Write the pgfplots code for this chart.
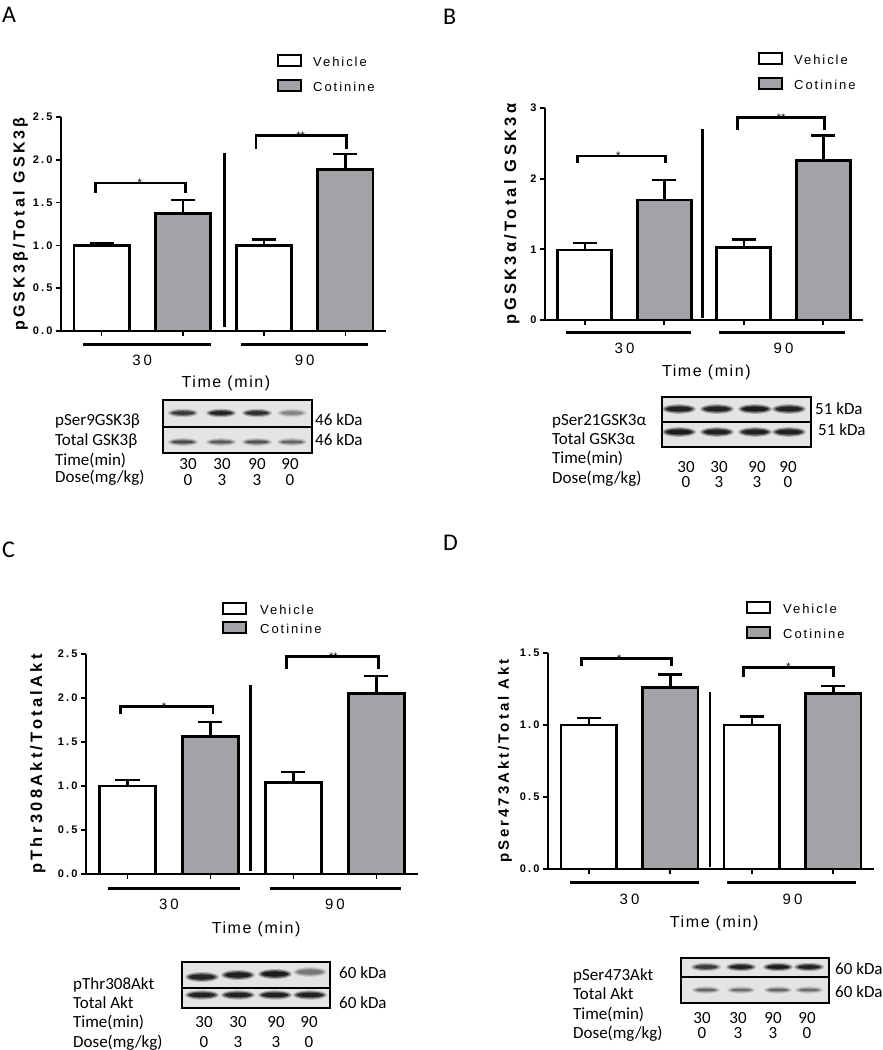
\documentclass[border=0pt]{standalone}
\usepackage{pgfplots}
\pgfplotsset{compat=1.18}
\usepackage{fontspec}
\setmainfont{Liberation Sans}
\newfontfamily\lsA[LetterSpace=10]{Liberation Sans}
\newfontfamily\lsL[LetterSpace=15]{Liberation Sans}
\newfontfamily\lsB[LetterSpace=20]{Liberation Sans}
\newfontfamily\blotfont{Carlito}
\definecolor{bargray}{RGB}{163,163,167}
\definecolor{blotbg}{RGB}{228,228,228}

\pgfplotsset{
  gp/.style={
    scale only axis, clip=false,
    axis lines=left, axis line style={-, line width=1.7pt},
    xmin=-0.5, xmax=3.5, ymin=0,
    xtick={0,1,2,3}, xticklabels={},
    tick style={line width=1.7pt, black},
    tick align=outside, major tick length=5pt,
    /pgf/number format/assume math mode=true,
    yticklabel style={font=\lsB\bfseries\fontsize{11}{13}\selectfont},
    ylabel style={anchor=center},
  },
  veh/.style={ybar, bar width=0.68, bar shift=0pt, fill=white, draw=black, line width=2.6pt,
    error bars/y dir=plus, error bars/y explicit,
    error bars/error bar style={line width=2.5pt, black},
    error bars/error mark options={rotate=90, line width=2.5pt, mark size=12pt, black}},
  cot/.style={veh, fill=bargray},
  brk/.style={forget plot, no marks, black, line width=2.8pt, line join=miter},
  sep/.style={forget plot, no marks, black, line width=2.6pt},
  uline/.style={forget plot, no marks, black, line width=3pt},
}
\newcommand{\legA}{\lsL\fontsize{13}{15}\selectfont}
\newcommand{\grp}{\lsB\fontsize{15}{17}\selectfont}
\newcommand{\tim}{\lsA\fontsize{16}{18}\selectfont}
\newcommand{\stars}{\fontsize{11}{12}\selectfont}
\newcommand{\blt}{\blotfont\fontsize{17}{20}\selectfont}
% blurred band: x, y, half width, half height, darkness
\newcommand{\band}[5]{%
  \fill[black, opacity=0.25*#5] (#1,#2) ellipse ({#3+3} and {#4+2});
  \fill[black, opacity=0.45*#5] (#1,#2) ellipse ({#3+1} and {#4+0.8});
  \fill[black, opacity=0.7*#5] (#1,#2) ellipse ({#3-1} and {#4-0.4});
}

\begin{document}
\begin{tikzpicture}
\path[use as bounding box] (0,0) rectangle (883pt,-1050pt);

% ---------------- Panel A ----------------
\begin{axis}[gp, at={(61pt,-331pt)}, anchor=south west, width=325pt, height=214pt,
  ymax=2.5, ytick={0,0.5,1,1.5,2,2.5},
  yticklabel style={/pgf/number format/.cd, fixed, fixed zerofill, precision=1},
  ylabel={pGSK3β/Total GSK3β},
  ylabel style={at={(axis description cs:-0.125,0.5)}, font=\lsB\bfseries\fontsize{16}{18}\selectfont}]
\addplot[veh] coordinates {(0,1.00) +- (0,0.03) (2,1.00) +- (0,0.07)};
\addplot[cot] coordinates {(1,1.37) +- (0,0.16) (3,1.89) +- (0,0.18)};
\addplot[brk] coordinates {(-0.08,1.61) (-0.08,1.73) (1.03,1.73) (1.03,1.61)};
\addplot[brk] coordinates {(1.90,2.13) (1.90,2.28) (3.01,2.28) (3.01,2.13)};
\addplot[sep] coordinates {(1.51,0.05) (1.51,2.08)};
\addplot[uline] coordinates {(-0.23,-0.152) (1.34,-0.152)};
\addplot[uline] coordinates {(1.71,-0.152) (3.28,-0.152)};
\node[font=\stars, anchor=base, yshift=-3.5pt] at (axis cs:0.47,1.73) {*};
\node[font=\stars, anchor=base, yshift=-3.5pt] at (axis cs:2.45,2.28) {**};
\node[font=\grp] at (axis cs:0.5,0) [yshift=-29pt] {30};
\node[font=\grp] at (axis cs:2.5,0) [yshift=-29pt] {90};
\node[font=\tim] at (axis cs:1.53,0) [yshift=-52pt] {Time (min)};
\end{axis}

% ---------------- Panel B ----------------
\begin{axis}[gp, at={(545pt,-320pt)}, anchor=south west, width=318pt, height=212pt,
  ymax=3, ytick={0,1,2,3},
  ylabel={pGSK3α/Total GSK3α},
  ylabel style={at={(axis description cs:-0.104,0.5)}, font=\lsB\bfseries\fontsize{16.5}{18}\selectfont}]
\addplot[veh] coordinates {(0,0.99) +- (0,0.10) (2,1.03) +- (0,0.11)};
\addplot[cot] coordinates {(1,1.70) +- (0,0.28) (3,2.26) +- (0,0.35)};
\addplot[brk] coordinates {(-0.09,2.22) (-0.09,2.32) (1.02,2.32) (1.02,2.22)};
\addplot[brk] coordinates {(1.92,2.69) (1.92,2.86) (3.02,2.86) (3.02,2.69)};
\addplot[sep] coordinates {(1.48,0.03) (1.48,2.70)};
\addplot[uline] coordinates {(-0.23,-0.17) (1.34,-0.17)};
\addplot[uline] coordinates {(1.69,-0.17) (3.27,-0.17)};
\node[font=\stars, anchor=base, yshift=-3.5pt] at (axis cs:0.42,2.32) {*};
\node[font=\stars, anchor=base, yshift=-3.5pt] at (axis cs:2.47,2.86) {**};
\node[font=\grp] at (axis cs:0.5,0) [yshift=-28pt] {30};
\node[font=\grp] at (axis cs:2.5,0) [yshift=-28pt] {90};
\node[font=\tim] at (axis cs:1.53,0) [yshift=-52pt] {Time (min)};
\end{axis}

% ---------------- Panel C ----------------
\begin{axis}[gp, at={(86pt,-874pt)}, anchor=south west, width=332pt, height=220pt,
  ymax=2.5, ytick={0,0.5,1,1.5,2,2.5},
  yticklabel style={/pgf/number format/.cd, fixed, fixed zerofill, precision=1},
  ylabel={pThr308Akt/TotalAkt},
  ylabel style={at={(axis description cs:-0.145,0.5)}, font=\lsB\bfseries\fontsize{16.5}{18}\selectfont}]
\addplot[veh] coordinates {(0,1.00) +- (0,0.07) (2,1.04) +- (0,0.12)};
\addplot[cot] coordinates {(1,1.56) +- (0,0.17) (3,2.05) +- (0,0.20)};
\addplot[brk] coordinates {(-0.08,1.82) (-0.08,1.90) (1.03,1.90) (1.03,1.82)};
\addplot[brk] coordinates {(1.92,2.33) (1.92,2.47) (3.02,2.47) (3.02,2.33)};
\addplot[sep] coordinates {(1.48,0.03) (1.48,2.15)};
\addplot[uline] coordinates {(-0.24,-0.159) (1.35,-0.159)};
\addplot[uline] coordinates {(1.72,-0.159) (3.29,-0.159)};
\node[font=\stars, anchor=base, yshift=-3.5pt] at (axis cs:0.44,1.90) {*};
\node[font=\stars, anchor=base, yshift=-3.5pt] at (axis cs:2.48,2.47) {**};
\node[font=\grp] at (axis cs:0.5,0) [yshift=-30pt] {30};
\node[font=\grp] at (axis cs:2.5,0) [yshift=-30pt] {90};
\node[font=\tim] at (axis cs:1.55,0) [yshift=-55pt] {Time (min)};
\end{axis}

% ---------------- Panel D ----------------
\begin{axis}[gp, at={(548pt,-869pt)}, anchor=south west, width=326pt, height=216pt,
  ymax=1.5, ytick={0,0.5,1,1.5},
  yticklabel style={/pgf/number format/.cd, fixed, fixed zerofill, precision=1},
  ylabel={pSer473Akt/Total Akt},
  ylabel style={at={(axis description cs:-0.132,0.5)}, font=\lsB\bfseries\fontsize{15}{17}\selectfont}]
\addplot[veh] coordinates {(0,1.00) +- (0,0.05) (2,1.00) +- (0,0.06)};
\addplot[cot] coordinates {(1,1.26) +- (0,0.09) (3,1.22) +- (0,0.05)};
\addplot[brk] coordinates {(-0.09,1.41) (-0.09,1.46) (1.02,1.46) (1.02,1.41)};
\addplot[brk] coordinates {(1.90,1.33) (1.90,1.40) (3.00,1.40) (3.00,1.33)};
\addplot[sep] coordinates {(1.49,0.014) (1.49,1.23)};
\addplot[uline] coordinates {(-0.23,-0.097) (1.35,-0.097)};
\addplot[uline] coordinates {(1.70,-0.097) (3.28,-0.097)};
\node[font=\stars, anchor=base, yshift=-3.5pt] at (axis cs:0.375,1.46) {*};
\node[font=\stars, anchor=base, yshift=-3.5pt] at (axis cs:2.45,1.40) {*};
\node[font=\grp] at (axis cs:0.5,0) [yshift=-30pt] {30};
\node[font=\grp] at (axis cs:2.5,0) [yshift=-30pt] {90};
\node[font=\tim] at (axis cs:1.54,0) [yshift=-54pt] {Time (min)};
\end{axis}

\begin{scope}[x=1pt,y=-1pt]
% panel letters
\node[font=\blotfont\fontsize{24}{26}\selectfont, anchor=base west, inner sep=0pt] at (2,22) {A};
\node[font=\blotfont\fontsize{24}{26}\selectfont, anchor=base west, inner sep=0pt] at (443,24) {B};
\node[font=\blotfont\fontsize{24}{26}\selectfont, anchor=base west, inner sep=0pt] at (2,557) {C};
\node[font=\blotfont\fontsize{24}{26}\selectfont, anchor=base west, inner sep=0pt] at (443,550) {D};

% legends
\foreach \x/\y/\tx/\dy in {277/54/313/25, 758/52/794/25, 222/602/260/19, 746/601/783/25}{
  \draw[line width=2.5pt, fill=white] (\x+1.2,\y+1.2) rectangle (\x+25-1.2,\y+13-1.2);
  \draw[line width=2.5pt, fill=bargray] (\x+1.2,\y+\dy+1.2) rectangle (\x+25-1.2,\y+\dy+13-1.2);
  \node[font=\legA, anchor=west, inner sep=0pt] at (\tx,\y+7.5) {Vehicle};
  \node[font=\legA, anchor=west, inner sep=0pt] at (\tx,\y+\dy+7.5) {Cotinine};
}

% ---- blot A ----
\fill[blotbg] (163,400) rectangle (312,453);
\foreach \cx/\op in {183/0.75, 221/0.95, 257/0.85, 292/0.35}{\band{\cx}{413}{12}{2.2}{\op}}
\foreach \cx/\op in {183/0.65, 221/0.55, 257/0.6, 292/0.5}{\band{\cx}{442}{12}{1.8}{\op}}
\draw[line width=2pt] (163,400) rectangle (312,453);
\draw[line width=2pt] (163,427) -- (312,427);
\node[font=\blt, anchor=base west, inner sep=0pt] at (55,425) {pSer9GSK3β};
\node[font=\blt, anchor=base west, inner sep=0pt] at (55,445) {Total GSK3β};
\node[font=\blt, anchor=base west, inner sep=0pt] at (55,465) {Time(min)};
\node[font=\blt, anchor=base west, inner sep=0pt] at (55,482) {Dose(mg/kg)};
\node[font=\blt, anchor=base west, inner sep=0pt] at (315,425) {46 kDa};
\node[font=\blt, anchor=base west, inner sep=0pt] at (315,445) {46 kDa};
\foreach \cx/\t/\d in {188/30/0, 222/30/3, 257/90/3, 290/90/0}{
  \node[font=\blt, anchor=base, inner sep=0pt] at (\cx,469) {\t};
  \node[font=\blt, anchor=base, inner sep=0pt] at (\cx,485) {\d};
}

% ---- blot B ----
\fill[blotbg] (662,397) rectangle (811,447);
\foreach \cx/\op in {679/0.95, 717/0.95, 755/1.0, 789/0.95}{\band{\cx}{409}{14}{2.8}{\op}}
\foreach \cx/\op in {679/1.0, 717/0.95, 755/0.95, 789/0.95}{\band{\cx}{432}{14}{2.8}{\op}}
\draw[line width=2pt] (662,397) rectangle (811,447);
\draw[line width=2pt] (662,422) -- (811,422);
\node[font=\blt, anchor=base west, inner sep=0pt] at (552,425) {pSer21GSK3α};
\node[font=\blt, anchor=base west, inner sep=0pt] at (552,444) {Total GSK3α};
\node[font=\blt, anchor=base west, inner sep=0pt] at (552,463) {Time(min)};
\node[font=\blt, anchor=base west, inner sep=0pt] at (552,483) {Dose(mg/kg)};
\node[font=\blt, anchor=base west, inner sep=0pt] at (815,414) {51 kDa};
\node[font=\blt, anchor=base west, inner sep=0pt] at (818,435) {51 kDa};
\foreach \cx/\t/\d in {686/30/0, 719/30/3, 757/90/3, 788/90/0}{
  \node[font=\blt, anchor=base, inner sep=0pt] at (\cx,472) {\t};
  \node[font=\blt, anchor=base, inner sep=0pt] at (\cx,487) {\d};
}

% ---- blot C ----
\fill[blotbg] (182,962) rectangle (330,1008);
\foreach \cx/\cy/\op in {202/977/0.9, 238/975/0.95, 275/974/1.0, 310/972/0.4}{\band{\cx}{\cy}{14}{3}{\op}}
\foreach \cx/\op in {202/0.95, 238/0.95, 275/0.95, 310/0.95}{\band{\cx}{995}{14}{2.6}{\op}}
\draw[line width=2pt] (182,962) rectangle (330,1008);
\draw[line width=2pt] (182,988) -- (330,988);
\node[font=\blt, anchor=base west, inner sep=0pt] at (73,989) {pThr308Akt};
\node[font=\blt, anchor=base west, inner sep=0pt] at (73,1008) {Total Akt};
\node[font=\blt, anchor=base west, inner sep=0pt] at (73,1027) {Time(min)};
\node[font=\blt, anchor=base west, inner sep=0pt] at (73,1047) {Dose(mg/kg)};
\node[font=\blt, anchor=base west, inner sep=0pt] at (339,978) {60 kDa};
\node[font=\blt, anchor=base west, inner sep=0pt] at (339,1008) {60 kDa};
\foreach \cx/\t/\d in {204/30/0, 238/30/3, 276/90/3, 309/90/0}{
  \node[font=\blt, anchor=base, inner sep=0pt] at (\cx,1027) {\t};
  \node[font=\blt, anchor=base, inner sep=0pt] at (\cx,1047) {\d};
}

% ---- blot D ----
\fill[blotbg] (681,958) rectangle (829,1003);
\foreach \cx/\op in {706/0.75, 741/0.95, 778/1.0, 809/0.95}{\band{\cx}{967}{12}{2.2}{\op}}
\foreach \cx/\op in {706/0.5, 741/0.45, 778/0.5, 809/0.45}{\band{\cx}{990}{11}{1.6}{\op}}
\draw[line width=2pt] (681,958) rectangle (829,1003);
\draw[line width=2pt] (681,977) -- (829,977);
\node[font=\blt, anchor=base west, inner sep=0pt] at (573,980) {pSer473Akt};
\node[font=\blt, anchor=base west, inner sep=0pt] at (573,999) {Total Akt};
\node[font=\blt, anchor=base west, inner sep=0pt] at (573,1019) {Time(min)};
\node[font=\blt, anchor=base west, inner sep=0pt] at (573,1038) {Dose(mg/kg)};
\node[font=\blt, anchor=base west, inner sep=0pt] at (835,974) {60 kDa};
\node[font=\blt, anchor=base west, inner sep=0pt] at (835,997) {60 kDa};
\foreach \cx/\t/\d in {702/30/0, 738/30/3, 773/90/3, 807/90/0}{
  \node[font=\blt, anchor=base, inner sep=0pt] at (\cx,1023) {\t};
  \node[font=\blt, anchor=base, inner sep=0pt] at (\cx,1038) {\d};
}
\end{scope}
\end{tikzpicture}
\end{document}
